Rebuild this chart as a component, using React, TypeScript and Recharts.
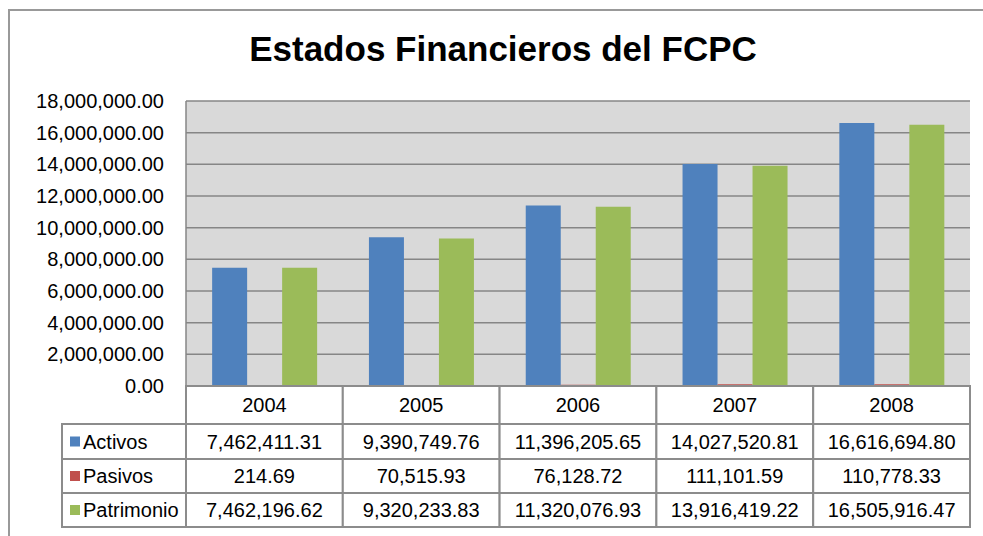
import { BarChart, Bar, XAxis, YAxis, CartesianGrid } from "recharts";

const years = ["2004", "2005", "2006", "2007", "2008"];
const activos = [7462411.31, 9390749.76, 11396205.65, 14027520.81, 16616694.8];
const pasivos = [214.69, 70515.93, 76128.72, 111101.59, 110778.33];
const patrimonio = [7462196.62, 9320233.83, 11320076.93, 13916419.22, 16505916.47];
const yTicks = [0, 2000000, 4000000, 6000000, 8000000, 10000000, 12000000, 14000000, 16000000, 18000000];

const series = [
	{ key: "activos", name: "Activos", color: "#4f81bd", values: activos },
	{ key: "pasivos", name: "Pasivos", color: "#c0504d", values: pasivos },
	{ key: "patrimonio", name: "Patrimonio", color: "#9bbb59", values: patrimonio },
];

const data = years.map((year, i) => ({
	year,
	activos: activos[i],
	pasivos: pasivos[i],
	patrimonio: patrimonio[i],
}));

const W = 983;
const H = 536;
const M = { top: 101, right: 13, bottom: 0, left: 0 };
const Y_W = 186;
const BAND = (W - M.left - M.right - Y_W) / years.length;
const FONT = "'Liberation Sans', Arial, sans-serif";
const BORDER = "#8c8c8c";

// table row edges, relative to the x-axis line
const ROWS = [0, 38, 73, 107, 141];
const LEFT_COL = 124;

const fmt = (v: number) =>
	v.toLocaleString("en-US", { minimumFractionDigits: 2, maximumFractionDigits: 2 });

function TableTick(props: any) {
	const { x, y, payload, index } = props;
	const x0 = x - BAND / 2;
	const i = years.indexOf(payload.value);
	return (
		<g>
			{ROWS.slice(0, -1).map((top, r) => (
				<rect
					key={r}
					x={x0}
					y={y + top}
					width={BAND}
					height={ROWS[r + 1] - top}
					fill="#fff"
					stroke={BORDER}
					strokeWidth={2}
				/>
			))}
			<text x={x} y={y + (ROWS[0] + ROWS[1]) / 2} textAnchor="middle" dominantBaseline="central" fontSize={20} fontFamily={FONT} fill="#000">
				{payload.value}
			</text>
			{series.map((s, r) => (
				<text
					key={s.key}
					x={x}
					y={y + (ROWS[r + 1] + ROWS[r + 2]) / 2}
					textAnchor="middle"
					dominantBaseline="central"
					fontSize={20}
					fontFamily={FONT}
					fill="#000"
				>
					{fmt(s.values[i])}
				</text>
			))}
			{index === 0 &&
				series.map((s, r) => {
					const top = y + ROWS[r + 1];
					const h = ROWS[r + 2] - ROWS[r + 1];
					return (
						<g key={s.key}>
							<rect x={x0 - LEFT_COL} y={top} width={LEFT_COL} height={h} fill="#fff" stroke={BORDER} strokeWidth={2} />
							<rect x={x0 - LEFT_COL + 8} y={top + h / 2 - 5} width={10} height={10} fill={s.color} />
							<text x={x0 - LEFT_COL + 21} y={top + h / 2} dominantBaseline="central" fontSize={20} fontFamily={FONT} fill="#000">
								{s.name}
							</text>
						</g>
					);
				})}
		</g>
	);
}

export default function App() {
	return (
		<div style={{ position: "absolute", left: 0, top: 0, width: W, height: H, overflow: "hidden", background: "#fff" }}>
			<div
				style={{
					position: "absolute",
					left: 8,
					top: 9,
					width: W + 20,
					height: H + 20,
					border: "2px solid #999",
				}}
			/>
			<div
				style={{
					position: "absolute",
					left: 0,
					width: 1006,
					top: 31,
					textAlign: "center",
					fontFamily: FONT,
					fontWeight: "bold",
					fontSize: 35,
					lineHeight: "35px",
					color: "#000",
				}}
			>
				Estados Financieros del FCPC
			</div>
			<div style={{ position: "absolute", left: 0, top: 0 }}>
				<BarChart width={W} height={H} data={data} margin={M} barCategoryGap="16.67%" barGap={0}>
					<CartesianGrid vertical={false} stroke="#868686" strokeWidth={1.5} fill="#d9d9d9" />
					<XAxis
						dataKey="year"
						height={H - M.top - 285}
						axisLine={{ stroke: "#868686", strokeWidth: 1.5 }}
						tickLine={false}
						tickSize={0}
						tickMargin={0}
						interval={0}
						tick={<TableTick />}
					/>
					<YAxis
						width={Y_W}
						domain={[0, 18000000]}
						ticks={yTicks}
						tickFormatter={fmt}
						axisLine={{ stroke: "#868686", strokeWidth: 1.5 }}
						tickLine={false}
						tickSize={0}
						tickMargin={22}
						tick={{ fill: "#000", fontSize: 20, fontFamily: FONT }}
					/>
					{series.map((s) => (
						<Bar key={s.key} dataKey={s.key} name={s.name} fill={s.color} isAnimationActive={false} />
					))}
				</BarChart>
			</div>
		</div>
	);
}
